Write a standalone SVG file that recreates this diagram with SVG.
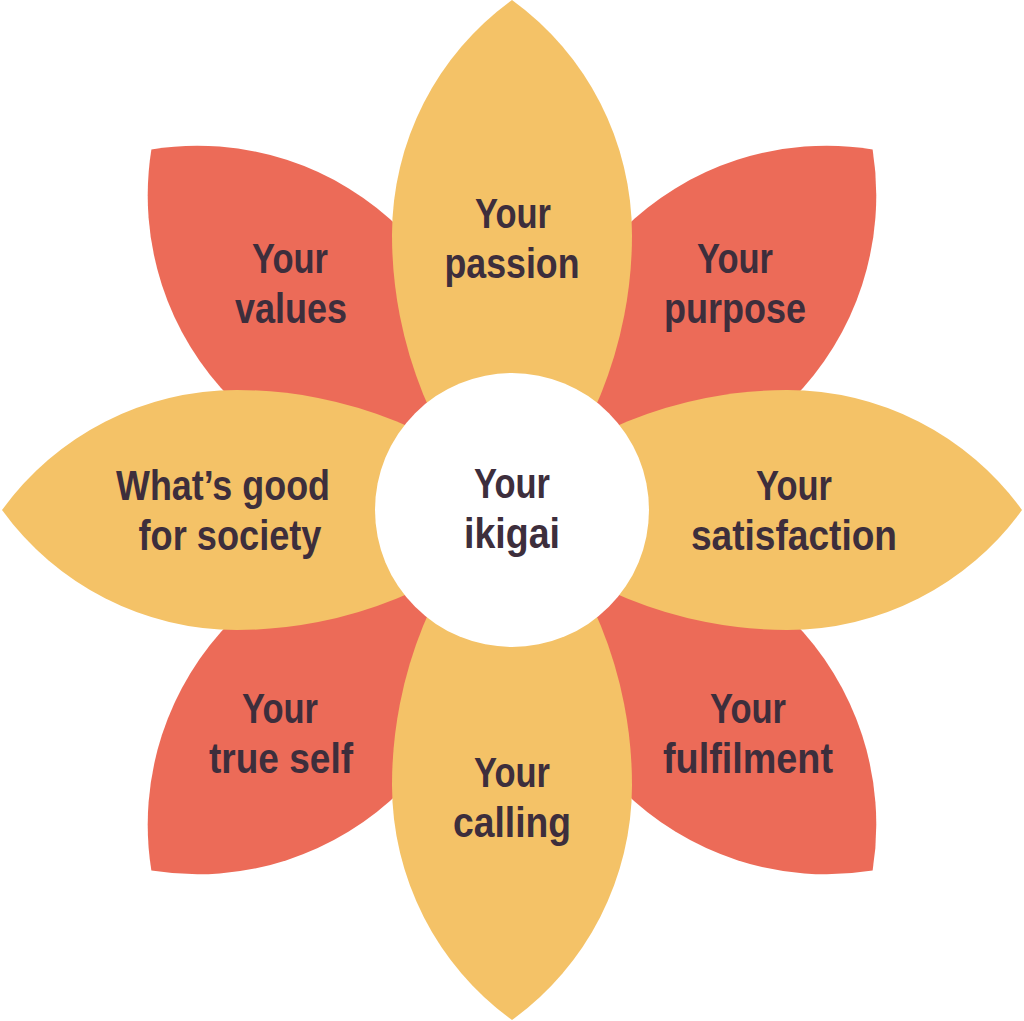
<svg xmlns="http://www.w3.org/2000/svg" width="1024" height="1021" viewBox="0 0 1024 1021">
<style>
.y{fill:#F4C267}
.r{fill:#EC6B58}
text{font-family:"Liberation Sans",Arial,sans-serif;font-weight:bold;font-size:42px;fill:#3D2E3C;text-anchor:middle}
</style>
<defs>
<path id="petal" d="M512 0 A290 290 0 0 0 392 235 A423 423 0 0 0 512 530 A423 423 0 0 0 632 235 A290 290 0 0 0 512 0 Z"/>
</defs>
<rect width="1024" height="1021" fill="#fff"/>
<g id="petal-values"><use href="#petal" class="r" transform="rotate(-45 512 510)"/><text x="290" y="273" textLength="76" lengthAdjust="spacingAndGlyphs">Your</text><text x="291" y="323" textLength="112" lengthAdjust="spacingAndGlyphs">values</text></g>
<g id="petal-purpose"><use href="#petal" class="r" transform="rotate(45 512 510)"/><text x="735" y="273" textLength="76" lengthAdjust="spacingAndGlyphs">Your</text><text x="735" y="323" textLength="142" lengthAdjust="spacingAndGlyphs">purpose</text></g>
<g id="petal-trueself"><use href="#petal" class="r" transform="rotate(-135 512 510)"/><text x="280" y="723" textLength="76" lengthAdjust="spacingAndGlyphs">Your</text><text x="281" y="773" textLength="144" lengthAdjust="spacingAndGlyphs">true self</text></g>
<g id="petal-fulfilment"><use href="#petal" class="r" transform="rotate(135 512 510)"/><text x="748" y="723" textLength="76" lengthAdjust="spacingAndGlyphs">Your</text><text x="748" y="773" textLength="170" lengthAdjust="spacingAndGlyphs">fulfilment</text></g>
<g id="petal-passion"><use href="#petal" class="y"/><text x="513" y="228" textLength="76" lengthAdjust="spacingAndGlyphs">Your</text><text x="512" y="278" textLength="135" lengthAdjust="spacingAndGlyphs">passion</text></g>
<g id="petal-satisfaction"><use href="#petal" class="y" transform="rotate(90 512 510)"/><text x="794" y="500" textLength="76" lengthAdjust="spacingAndGlyphs">Your</text><text x="794" y="550" textLength="206" lengthAdjust="spacingAndGlyphs">satisfaction</text></g>
<g id="petal-calling"><use href="#petal" class="y" transform="rotate(180 512 510)"/><text x="512" y="787" textLength="76" lengthAdjust="spacingAndGlyphs">Your</text><text x="512" y="837" textLength="118" lengthAdjust="spacingAndGlyphs">calling</text></g>
<g id="petal-society"><use href="#petal" class="y" transform="rotate(-90 512 510)"/><text x="223" y="500" textLength="214" lengthAdjust="spacingAndGlyphs">What’s good</text><text x="230" y="550" textLength="183" lengthAdjust="spacingAndGlyphs">for society</text></g>
<g id="center"><circle cx="512" cy="510" r="137" fill="#fff"/><text x="512" y="498" textLength="76" lengthAdjust="spacingAndGlyphs">Your</text><text x="512" y="548" textLength="96" lengthAdjust="spacingAndGlyphs">ikigai</text></g>
</svg>
